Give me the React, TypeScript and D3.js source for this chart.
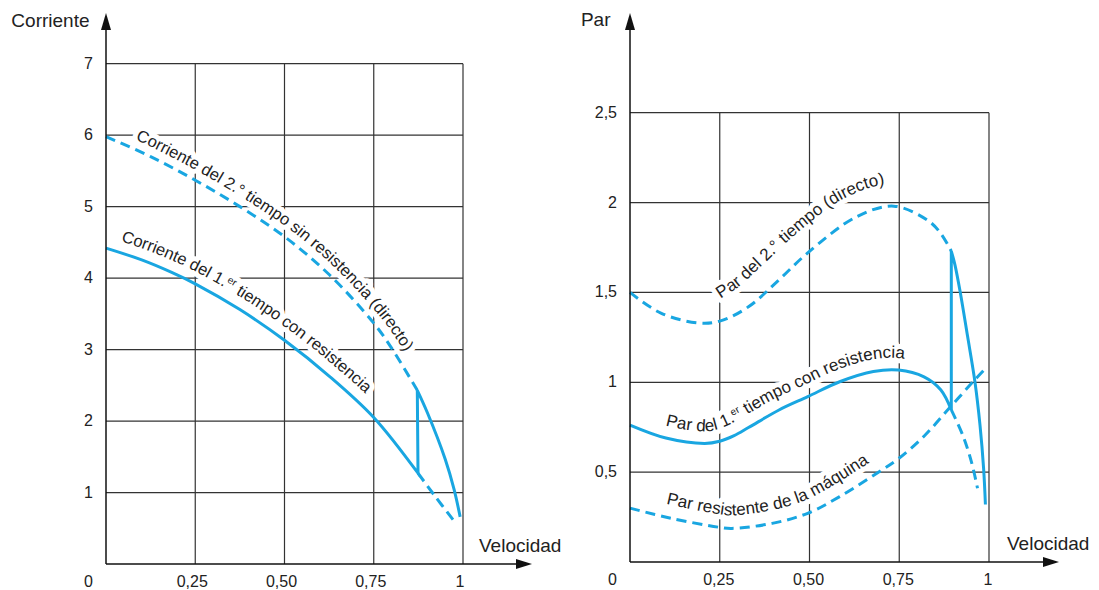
import React, { useRef, useEffect } from "react";
import * as d3 from "d3";

const W = 1099;
const H = 590;
const BLUE = "#19a6e1";
const FONT = "'Liberation Sans', Arial, Helvetica, sans-serif";

// eje x comun
const velTicks = [0.25, 0.5, 0.75, 1];
const velLabels = ["0,25", "0,50", "0,75", "1"];

// grafico izquierdo: corriente
const corrTicks = [1, 2, 3, 4, 5, 6, 7];
const corrLabels = ["1", "2", "3", "4", "5", "6", "7"];
// 1er tiempo con resistencia (continuo)
const corr1 = [[0, 4.42], [0.1, 4.255], [0.184, 4.08], [0.25, 3.92], [0.375, 3.56], [0.5, 3.13], [0.625, 2.63], [0.75, 2.05], [0.874, 1.27]];
// prolongacion punteada
const corr1Ext = [[0.874, 1.27], [0.92, 0.96], [0.972, 0.62]];
// 2.° tiempo directo (punteado)
const corr2 = [[0, 5.98], [0.125, 5.7], [0.25, 5.37], [0.375, 5.0], [0.5, 4.58], [0.625, 4.05], [0.75, 3.37], [0.8, 3.02], [0.872, 2.43]];
// tramo continuo tras el paso
const corr2Tail = [[0.872, 2.43], [0.9, 2.12], [0.95, 1.47], [0.975, 1.045], [0.992, 0.66]];

// grafico derecho: par
const parTicks = [0.5, 1, 1.5, 2, 2.5];
const parLabels = ["0,5", "1", "1,5", "2", "2,5"];
const par2 = [[0, 1.5], [0.086, 1.385], [0.19, 1.33], [0.25, 1.34], [0.33, 1.42], [0.415, 1.57], [0.495, 1.72], [0.63, 1.92], [0.735, 1.98], [0.83, 1.9], [0.865, 1.83], [0.895, 1.73]];
const par2Tail = [[0.895, 1.73], [0.905, 1.655], [0.92, 1.5], [0.94, 1.26], [0.961, 1.0], [0.975, 0.76], [0.985, 0.52], [0.99, 0.32]];
const par1 = [[0, 0.762], [0.1, 0.69], [0.208, 0.66], [0.25, 0.672], [0.29, 0.703], [0.33, 0.748], [0.415, 0.846], [0.495, 0.92], [0.584, 1.003], [0.678, 1.06], [0.748, 1.068], [0.819, 1.03], [0.866, 0.957], [0.895, 0.846]];
const par1Ext = [[0.895, 0.846], [0.928, 0.7], [0.952, 0.55], [0.968, 0.41]];
const parMaquina = [[0, 0.3], [0.115, 0.243], [0.249, 0.193], [0.284, 0.187], [0.396, 0.215], [0.495, 0.271], [0.584, 0.364], [0.692, 0.5], [0.748, 0.575], [0.819, 0.7], [0.889, 0.855], [0.96, 1.013], [0.995, 1.087]];

function App() {
  const svgRef = useRef<SVGSVGElement>(null);

  useEffect(() => {
    const svg = d3.select(svgRef.current);
    svg.selectAll("*").remove();
    const defs = svg.append("defs");
    let labelId = 0;

    const panels = [
      {
        x: d3.scaleLinear().domain([0, 1]).range([106, 463]),
        y: d3.scaleLinear().domain([0, 7]).range([564, 63.7]),
        ticks: corrTicks, tickLabels: corrLabels, yMax: 7,
        title: "Corriente", titleX: 89.5, titleY: 26.5,
        velX: 479, velY: 551.5, arrowEnd: 532, xDx: -3, xLabY: 587,
        solid: [corr1, corr2Tail],
        dashed: [corr2, corr1Ext],
        labels: [
          { guide: [...corr2, ...corr2Tail.slice(1)], from: 0.07, to: 1, off: 9, ext: 0, size: 16.5,
            parts: [{ t: "Corriente del 2.° tiempo sin resistencia (directo)" }] },
          { guide: corr1, from: 0.03, to: 0.874, off: 11, ext: 0, size: 16.5,
            parts: [{ t: "Corriente del 1." }, { t: "er", sup: true }, { t: " tiempo con resistencia" }] },
        ],
      },
      {
        x: d3.scaleLinear().domain([0, 1]).range([630, 989]),
        y: d3.scaleLinear().domain([0, 2.5]).range([562, 112.7]),
        ticks: parTicks, tickLabels: parLabels, yMax: 2.5,
        title: "Par", titleX: 610.5, titleY: 26,
        velX: 1007, velY: 550, arrowEnd: 1059, xDx: -1, xLabY: 585,
        solid: [par1, par2Tail],
        dashed: [par2, par1Ext, parMaquina],
        labels: [
          { guide: par2, from: 0.32, to: 0.8, off: 22, ext: 15, size: 17,
            parts: [{ t: "Par del 2.° tiempo (directo)" }] },
          { guide: par1, from: 0.085, to: 0.895, off: 12, ext: 0, size: 17,
            parts: [{ t: "Par del 1." }, { t: "er", sup: true }, { t: " tiempo con resistencia" }] },
          { guide: parMaquina, from: 0.09, to: 1, off: 13, ext: 0, size: 17,
            parts: [{ t: "Par resistente de la máquina" }] },
        ],
      },
    ];

    panels.forEach((p) => {
      const g = svg.append("g");
      const line = d3.line<number[]>()
        .x((d) => p.x(d[0]))
        .y((d) => p.y(d[1]))
        .curve(d3.curveCatmullRom.alpha(0.5));
      const x0 = p.x(0), x1 = p.x(1), y0 = p.y(0), yTop = p.y(p.yMax);

      // cuadricula
      g.selectAll(".hgrid").data(p.ticks).join("line")
        .attr("x1", x0).attr("x2", x1)
        .attr("y1", (d) => p.y(d)).attr("y2", (d) => p.y(d))
        .attr("stroke", "#333").attr("stroke-width", 1.2);
      g.selectAll(".vgrid").data(velTicks).join("line")
        .attr("x1", (d) => p.x(d)).attr("x2", (d) => p.x(d))
        .attr("y1", yTop).attr("y2", y0)
        .attr("stroke", "#333").attr("stroke-width", 1.2);

      // etiquetas de las curvas: primero el halo blanco, luego el texto
      p.labels.forEach((lab) => {
        const guide = g.append("path").attr("d", line(lab.guide)).attr("fill", "none").attr("stroke", "none");
        const node = guide.node() as SVGPathElement;
        const L = node.getTotalLength();
        const pts: [number, number][] = [];
        for (let s = 0; s <= L; s += 2) {
          const pt = node.getPointAtLength(s);
          const v = p.x.invert(pt.x);
          if (v < lab.from || v > lab.to) continue;
          const a = node.getPointAtLength(Math.max(0, s - 1.5));
          const b = node.getPointAtLength(Math.min(L, s + 1.5));
          const dx = b.x - a.x, dy = b.y - a.y, n = Math.hypot(dx, dy) || 1;
          pts.push([pt.x + (dy / n) * lab.off, pt.y - (dx / n) * lab.off]);
        }
        guide.remove();
        if (lab.ext && pts.length > 2) {
          const [ax, ay] = pts[0], [bx, by] = pts[2];
          const n = Math.hypot(bx - ax, by - ay) || 1;
          pts.unshift([ax - ((bx - ax) / n) * lab.ext, ay - ((by - ay) / n) * lab.ext]);
        }
        const id = "lab" + labelId++;
        defs.append("path").attr("id", id).attr("d", d3.line().curve(d3.curveBasis)(pts));

        [true, false].forEach((halo) => {
          const t = g.append("text")
            .attr("font-family", FONT).attr("font-size", lab.size);
          if (halo) t.attr("fill", "#fff").attr("stroke", "#fff").attr("stroke-width", 10)
            .attr("stroke-linejoin", "round").attr("aria-hidden", "true");
          else t.attr("fill", "#222");
          const tp = t.append("textPath").attr("href", "#" + id);
          let prevSup = false;
          lab.parts.forEach((part: any) => {
            const ts = tp.append("tspan").text(part.t);
            if (part.sup) ts.attr("font-size", 10).attr("dy", -6);
            else if (prevSup) ts.attr("dy", 6);
            prevSup = !!part.sup;
          });
        });
      });

      // curvas
      p.dashed.forEach((d) => {
        g.append("path").attr("d", line(d)).attr("fill", "none")
          .attr("stroke", BLUE).attr("stroke-width", 3).attr("stroke-dasharray", "10,6");
      });
      const [a, b] = p.solid;
      g.append("path")
        .attr("d", (line(a) as string) + (line(b) as string).replace(/^M/, "L"))
        .attr("fill", "none").attr("stroke", BLUE).attr("stroke-width", 3)
        .attr("stroke-linejoin", "miter");

      // ejes con flechas
      g.append("line").attr("x1", x0).attr("x2", x0).attr("y1", 28).attr("y2", y0)
        .attr("stroke", "#111").attr("stroke-width", 1.5);
      g.append("line").attr("x1", x0).attr("x2", p.arrowEnd - 14).attr("y1", y0).attr("y2", y0)
        .attr("stroke", "#111").attr("stroke-width", 1.5);
      g.append("path").attr("d", `M${x0},13L${x0 - 5},30L${x0 + 5},30Z`).attr("fill", "#111");
      g.append("path").attr("d", `M${p.arrowEnd},${y0}L${p.arrowEnd - 16},${y0 - 5}L${p.arrowEnd - 16},${y0 + 5}Z`).attr("fill", "#111");

      // textos de ejes
      const txt = (sel: any, size: number) => sel.attr("font-family", FONT).attr("font-size", size).attr("fill", "#222");
      g.selectAll(".ylab").data(p.ticks).join("text")
        .attr("x", x0 - 13).attr("y", (d) => p.y(d) + 5).attr("text-anchor", "end")
        .text((d, i) => p.tickLabels[i])
        .call(txt, 16);
      txt(g.append("text").attr("x", x0 - 13).attr("y", p.xLabY).attr("text-anchor", "end").text("0"), 16);
      g.selectAll(".xlab").data(velTicks).join("text")
        .attr("x", (d) => p.x(d) + p.xDx).attr("y", p.xLabY).attr("text-anchor", "middle")
        .text((d, i) => velLabels[i])
        .call(txt, 16);
      txt(g.append("text").attr("x", p.titleX).attr("y", p.titleY).attr("text-anchor", "end").text(p.title), 19);
      txt(g.append("text").attr("x", p.velX).attr("y", p.velY).text("Velocidad"), 19);
    });
  }, []);

  return (
    <svg ref={svgRef} width={W} height={H}
      style={{ position: "absolute", left: 0, top: 0, background: "#fff" }} />
  );
}

export default App;
